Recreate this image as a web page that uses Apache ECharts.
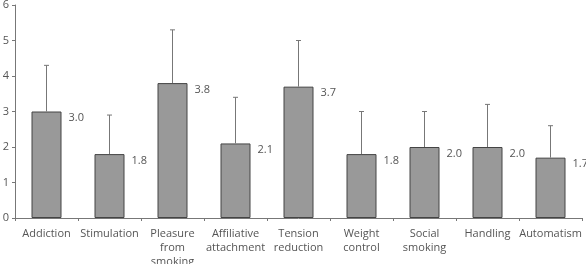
<!DOCTYPE html>
<html>
<head>
<meta charset="utf-8">
<script src="https://cdn.jsdelivr.net/npm/echarts@6/dist/echarts.min.js"></script>
<style>
  html, body { margin: 0; padding: 0; background: #fff; }
  #chart { width: 586px; height: 264px; }
</style>
</head>
<body>
<div id="chart"></div>
<script>
// categories (motivation domains)
var categories = [
    'Addiction', 'Stimulation', 'Pleasure\nfrom\nsmoking', 'Affiliative\nattachment',
    'Tension\nreduction', 'Weight\ncontrol', 'Social\nsmoking', 'Handling', 'Automatism'
];
// mean scores
var means = [3.0, 1.8, 3.8, 2.1, 3.7, 1.8, 2.0, 2.0, 1.7];
// top of error whisker (mean + SD)
var whiskerTops = [4.3, 2.9, 5.3, 3.4, 5.0, 3.0, 3.0, 3.2, 2.6];

var textColor = '#555';
var fontFamily = 'Open Sans';

var myChart = echarts.init(document.getElementById('chart'));

myChart.setOption({
    animation: false,
    grid: { left: 15, right: 4, top: 5, bottom: 46, outerBoundsMode: 'none', containLabel: false },
    xAxis: {
        type: 'category',
        data: categories,
        axisLine: { lineStyle: { color: '#777', width: 1 } },
        axisTick: { show: true, length: 3, lineStyle: { color: '#777' } },
        axisLabel: {
            color: textColor, fontFamily: fontFamily, fontSize: 11,
            lineHeight: 14, margin: 9, interval: 0
        }
    },
    yAxis: {
        type: 'value',
        min: 0,
        max: 6,
        interval: 1,
        splitLine: { show: false },
        axisLine: { show: true, lineStyle: { color: '#777', width: 1 } },
        axisTick: { show: true, length: 3, lineStyle: { color: '#777' } },
        axisLabel: { color: textColor, fontFamily: fontFamily, fontSize: 11, margin: 6 }
    },
    series: [
        {
            type: 'bar',
            data: means,
            barWidth: 30,
            itemStyle: { color: '#999', borderColor: '#444', borderWidth: 1 },
            label: {
                show: true,
                position: [37, 1],
                align: 'left',
                verticalAlign: 'top',
                color: textColor,
                fontFamily: fontFamily,
                fontSize: 11,
                formatter: function (p) { return p.value.toFixed(1); }
            }
        },
        {
            // error whiskers drawn above each bar
            type: 'custom',
            data: means.map(function (m, i) { return [i, m, whiskerTops[i]]; }),
            renderItem: function (params, api) {
                var base = api.coord([api.value(0), api.value(1)]);
                var top = api.coord([api.value(0), api.value(2)]);
                var capHalf = 2.5;
                var style = { stroke: '#777', lineWidth: 1 };
                return {
                    type: 'group',
                    children: [
                        { type: 'line', shape: { x1: base[0], y1: base[1], x2: top[0], y2: top[1] }, style: style },
                        { type: 'line', shape: { x1: top[0] - capHalf, y1: top[1], x2: top[0] + capHalf, y2: top[1] }, style: style }
                    ]
                };
            },
            z: 3
        }
    ]
});
</script>
</body>
</html>
